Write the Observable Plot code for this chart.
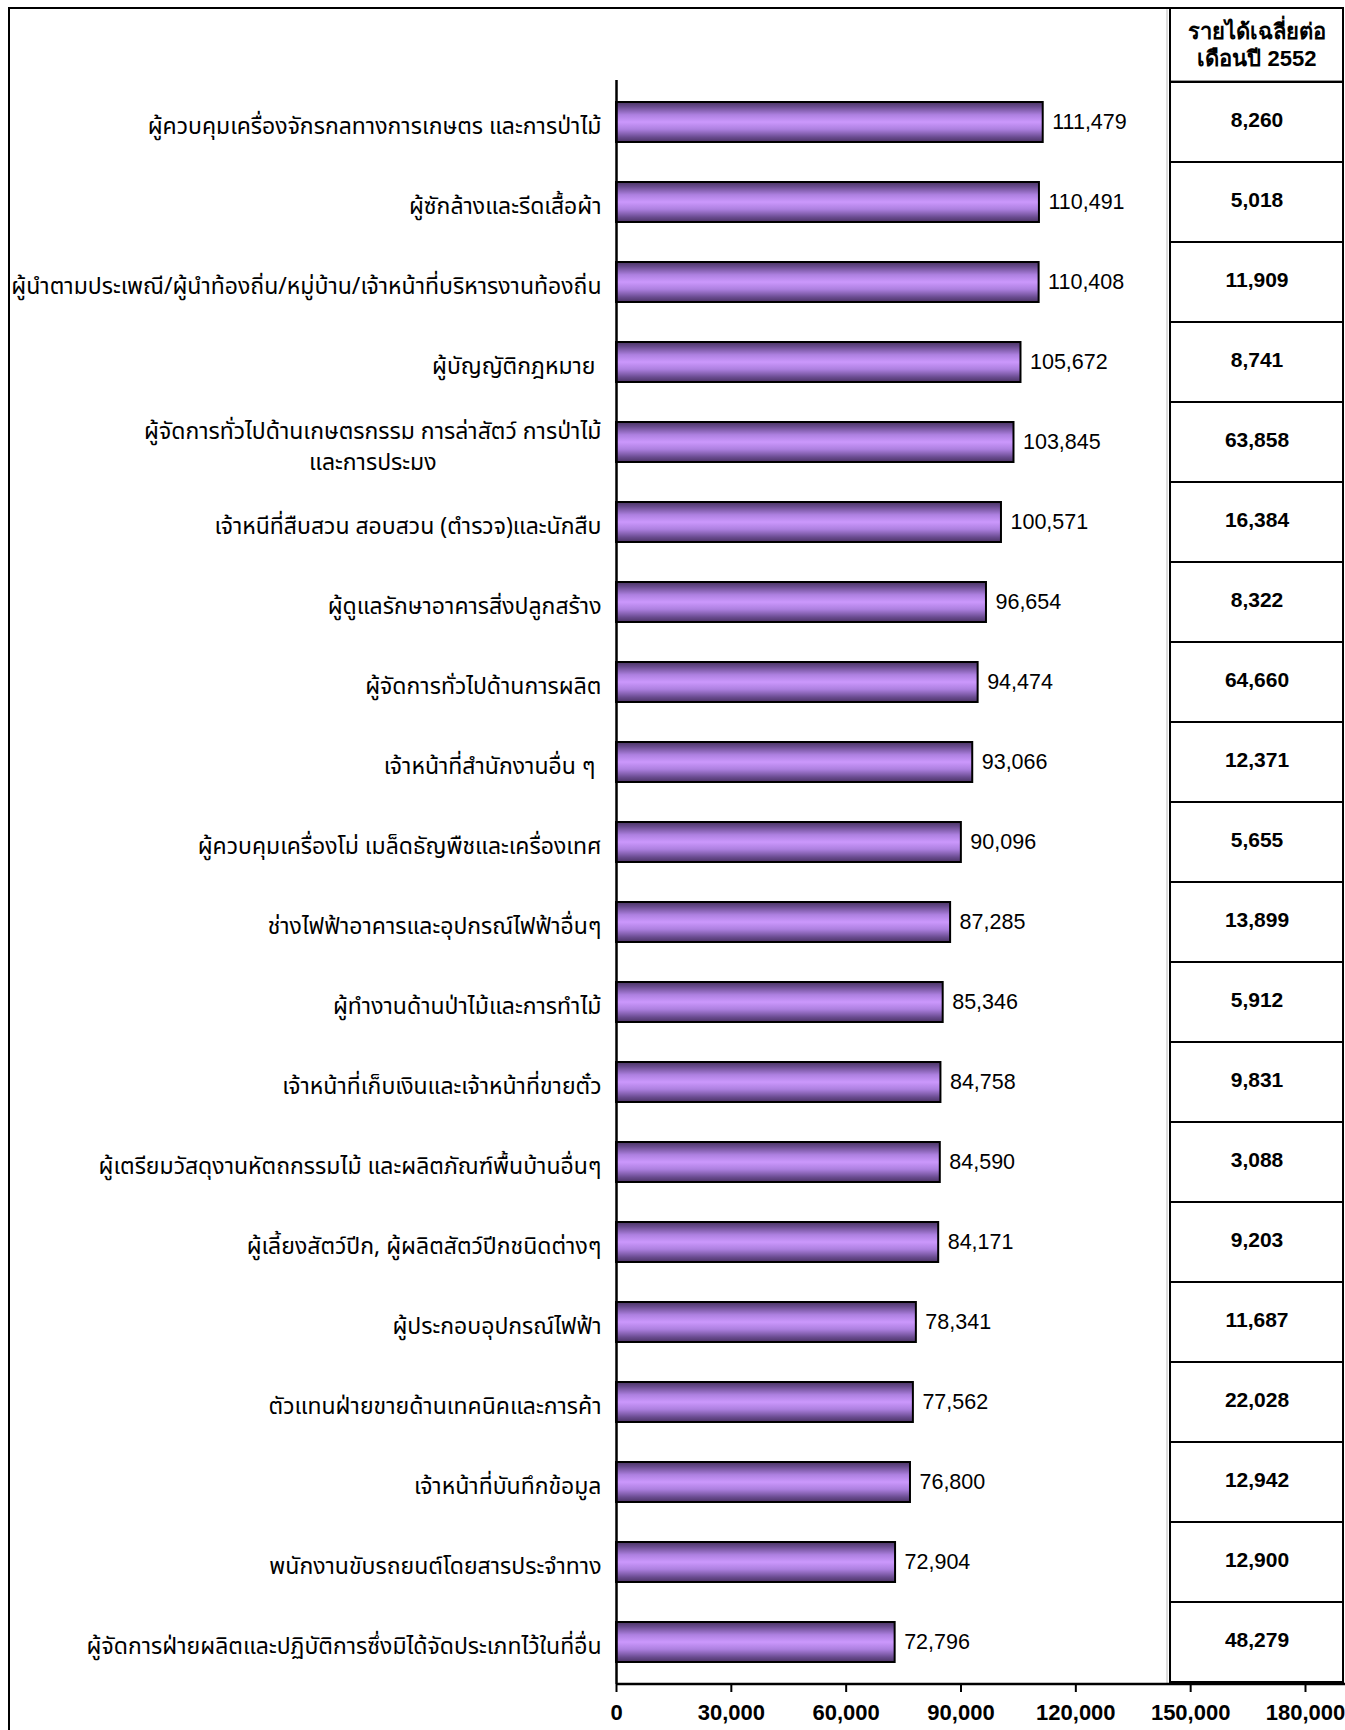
<!DOCTYPE html>
<html><head><meta charset="utf-8">
<script src="https://cdn.jsdelivr.net/npm/d3@7"></script>
<script src="https://cdn.jsdelivr.net/npm/@observablehq/plot@0.6"></script>
<style>html,body{margin:0;padding:0;background:#fff}</style>
</head><body><div id="chart"></div>
<script>
const occupations = [
  "ผู้ควบคุมเครื่องจักรกลทางการเกษตร และการป่าไม้",
  "ผู้ซักล้างและรีดเสื้อผ้า",
  "ผู้นำตามประเพณี/ผู้นำท้องถิ่น/หมู่บ้าน/เจ้าหน้าที่บริหารงานท้องถิ่น",
  "ผู้บัญญัติกฎหมาย\u00a0",
  "ผู้จัดการทั่วไปด้านเกษตรกรรม การล่าสัตว์ การป่าไม้\nและการประมง",
  "เจ้าหนีที่สืบสวน สอบสวน (ตำรวจ)และนักสืบ",
  "ผู้ดูแลรักษาอาคารสิ่งปลูกสร้าง",
  "ผู้จัดการทั่วไปด้านการผลิต",
  "เจ้าหน้าที่สำนักงานอื่น ๆ\u00a0",
  "ผู้ควบคุมเครื่องโม่ เมล็ดธัญพืชและเครื่องเทศ",
  "ช่างไฟฟ้าอาคารและอุปกรณ์ไฟฟ้าอื่นๆ",
  "ผู้ทำงานด้านป่าไม้และการทำไม้",
  "เจ้าหน้าที่เก็บเงินและเจ้าหน้าที่ขายตั๋ว",
  "ผู้เตรียมวัสดุงานหัตถกรรมไม้ และผลิตภัณฑ์พื้นบ้านอื่นๆ",
  "ผู้เลี้ยงสัตว์ปีก, ผู้ผลิตสัตว์ปีกชนิดต่างๆ",
  "ผู้ประกอบอุปกรณ์ไฟฟ้า",
  "ตัวแทนฝ่ายขายด้านเทคนิคและการค้า",
  "เจ้าหน้าที่บันทึกข้อมูล",
  "พนักงานขับรถยนต์โดยสารประจำทาง",
  "ผู้จัดการฝ่ายผลิตและปฏิบัติการซึ่งมิได้จัดประเภทไว้ในที่อื่น"
];
const wages = [111479,110491,110408,105672,103845,100571,96654,94474,93066,90096,87285,85346,84758,84590,84171,78341,77562,76800,72904,72796];
const incomes2552 = [8260,5018,11909,8741,63858,16384,8322,64660,12371,5655,13899,5912,9831,3088,9203,11687,22028,12942,12900,48279];
const xTicks = [0,30000,60000,90000,120000,150000,180000];
const headerLines = ["รายได้เฉลี่ยต่อ","เดือนปี 2552"];

const rows = occupations.map((name,i)=>({name, wage: wages[i], income: incomes2552[i]}));
const fmt = d3.format(",");
const W = 1345, H = 1730;
const TABLE_X1 = 144735, TABLE_X2 = 189930, TABLE_XC = (TABLE_X1 + TABLE_X2) / 2;
const thai = "'Noto Sans Thai','Noto Sans Thai UI','Loma','Garuda','Tlwg Typo','Noto Sans','DejaVu Sans',sans-serif";

const plot = Plot.plot({
  width: W, height: H,
  marginLeft: 616, marginRight: 40, marginTop: 80, marginBottom: 46,
  style: {fontFamily: "'Liberation Sans', Arial, sans-serif", fontSize: "21px", color: "#000", background: "#fff", overflow: "visible"},
  x: {domain: [0, 180000], axis: null},
  y: {domain: occupations, paddingInner: 0.5, paddingOuter: 0.27, axis: null},
  marks: [
    Plot.rect(rows, {x1: TABLE_X1, x2: TABLE_X2, y: "name", insetTop: -20, insetBottom: -20, fill: "#fff", stroke: "#000", strokeWidth: 2}),
    Plot.text(rows, {x: TABLE_XC, y: "name", dy: -2, text: d => fmt(d.income), fontWeight: "bold", fontSize: 21, fill: "#000"}),
    Plot.text([headerLines.join("\n")], {x: TABLE_XC, frameAnchor: "top", lineAnchor: "middle", dy: -36.5, text: d => d, fontWeight: "bold", fontSize: 22, lineHeight: 1.23, fill: "#000"}),
    Plot.barX(rows, {x: "wage", y: "name", fill: "url(#barGrad)", stroke: "#000", strokeWidth: 2}),
    Plot.text(rows, {x: "wage", y: "name", text: d => fmt(d.wage), textAnchor: "start", dx: 9, fontSize: 21.5, fill: "#000"}),
    Plot.text(rows, {x: 0, y: "name", text: "name", textAnchor: "end", dx: -15, dy: 2, fontSize: 23, fontFamily: thai, lineHeight: 1.34, fill: "#000"}),
    Plot.ruleX([0], {stroke: "#000", strokeWidth: 2.5}),
    Plot.axisX({ticks: xTicks, tickFormat: fmt, tickSize: 8, tickPadding: 12, fontWeight: "bold", fontSize: 22, strokeWidth: 2, label: null})
  ]
});

const svg = d3.select(plot);
const defs = svg.insert("defs", ":first-child");
const g = defs.append("linearGradient").attr("id", "barGrad").attr("x1", 0).attr("y1", 0).attr("x2", 0).attr("y2", 1);
[[0, "#4a3364"], [0.12, "#6a4c90"], [0.32, "#ad80e0"], [0.5, "#cb98fc"], [0.68, "#ad80e0"], [0.88, "#6a4c90"], [1, "#4a3364"]]
  .forEach(([o, c]) => g.append("stop").attr("offset", o).attr("stop-color", c));

// decorations: outer frame, plot-area edge, header box, x axis line
const deco = svg.append("g").attr("fill", "none");
deco.append("line").attr("x1", 1167).attr("x2", 1167).attr("y1", 8).attr("y2", 1684).attr("stroke", "#bbb").attr("stroke-width", 1);
deco.append("path").attr("d", "M9,1740V8H1343").attr("stroke", "#000").attr("stroke-width", 2);
deco.append("rect").attr("x", 1170).attr("y", 8).attr("width", 173).attr("height", 73.6).attr("stroke", "#000").attr("stroke-width", 2);
deco.append("line").attr("x1", 616).attr("x2", 1345).attr("y1", 1684).attr("y2", 1684).attr("stroke", "#000").attr("stroke-width", 2.5);

document.getElementById("chart").appendChild(plot);

// centre the lines of multi-line category labels within their block
svg.selectAll("g[text-anchor='end'] text").each(function () {
  const tspans = this.querySelectorAll("tspan");
  if (tspans.length < 2) return;
  const maxW = d3.max(tspans, t => t.getComputedTextLength());
  this.setAttribute("text-anchor", "middle");
  tspans.forEach(t => t.setAttribute("x", -maxW / 2));
});
</script>
</body></html>
